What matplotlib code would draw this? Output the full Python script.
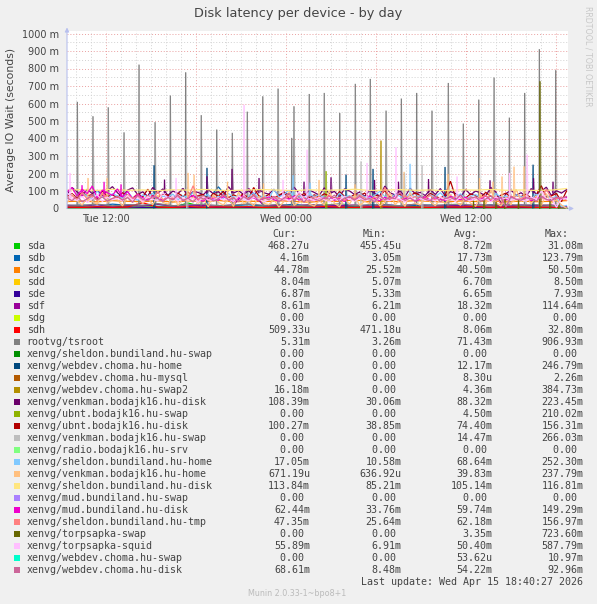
import numpy as np
import matplotlib
matplotlib.use("Agg")
import matplotlib.pyplot as plt
from matplotlib.patches import Rectangle

# ---------------- data (values in milliseconds, time in hours since Tue 00:00) -------------
T_START, T_END = 9.4, 42.7

names = ["sda", "sdb", "sdc", "sdd", "sde", "sdf", "sdg", "sdh", "rootvg/tsroot",
         "xenvg/sheldon.bundiland.hu-swap", "xenvg/webdev.choma.hu-home",
         "xenvg/webdev.choma.hu-mysql", "xenvg/webdev.choma.hu-swap2",
         "xenvg/venkman.bodajk16.hu-disk", "xenvg/ubnt.bodajk16.hu-swap",
         "xenvg/ubnt.bodajk16.hu-disk", "xenvg/venkman.bodajk16.hu-swap",
         "xenvg/radio.bodajk16.hu-srv", "xenvg/sheldon.bundiland.hu-home",
         "xenvg/venkman.bodajk16.hu-home", "xenvg/sheldon.bundiland.hu-disk",
         "xenvg/mud.bundiland.hu-swap", "xenvg/mud.bundiland.hu-disk",
         "xenvg/sheldon.bundiland.hu-tmp", "xenvg/torpsapka-swap",
         "xenvg/torpsapka-squid", "xenvg/webdev.choma.hu-swap",
         "xenvg/webdev.choma.hu-disk"]
colors = ["#00CC00", "#0066B3", "#FF8000", "#FFCC00", "#330099", "#990099", "#CCFF00",
          "#FF0000", "#808080", "#008F00", "#00487D", "#B35A00", "#B38F00", "#6B006B",
          "#8FB300", "#B30000", "#BEBEBE", "#80FF80", "#80C9FF", "#FFC080", "#FFE680",
          "#AA80FF", "#EE00CC", "#FF8080", "#666600", "#FFBFFF", "#00FFCC", "#CC6699"]
cur_vals = ["468.27u", "4.16m", "44.78m", "8.04m", "6.87m", "8.61m", "0.00 ", "509.33u",
            "5.31m", "0.00 ", "0.00 ", "0.00 ", "16.18m", "108.39m", "0.00 ", "100.27m",
            "0.00 ", "0.00 ", "17.05m", "671.19u", "113.84m", "0.00 ", "62.44m", "47.35m",
            "0.00 ", "55.89m", "0.00 ", "68.61m"]
min_vals = ["455.45u", "3.05m", "25.52m", "5.07m", "5.33m", "6.21m", "0.00 ", "471.18u",
            "3.26m", "0.00 ", "0.00 ", "0.00 ", "0.00 ", "30.06m", "0.00 ", "38.85m",
            "0.00 ", "0.00 ", "10.58m", "636.92u", "85.21m", "0.00 ", "33.76m", "25.64m",
            "0.00 ", "6.91m", "0.00 ", "8.48m"]
avg_vals = ["8.72m", "17.73m", "40.50m", "6.70m", "6.65m", "18.32m", "0.00 ", "8.06m",
            "71.43m", "0.00 ", "12.17m", "8.30u", "4.36m", "88.32m", "4.50m", "74.40m",
            "14.47m", "0.00 ", "68.64m", "39.83m", "105.14m", "0.00 ", "59.74m", "62.18m",
            "3.35m", "50.40m", "53.62u", "54.22m"]
max_vals = ["31.08m", "123.79m", "50.50m", "8.50m", "7.93m", "114.64m", "0.00 ", "32.80m",
            "906.93m", "0.00 ", "246.79m", "2.26m", "384.73m", "223.45m", "210.02m",
            "156.31m", "266.03m", "0.00 ", "252.30m", "237.79m", "116.81m", "0.00 ",
            "149.29m", "156.97m", "723.60m", "587.79m", "10.97m", "92.96m"]

zero_line = [0.0, 0.0]

sda_v = [8, 10, 6, 12, 9, 7, 11, 8, 31, 9, 6, 10, 8, 7, 12, 9, 8, 6, 10, 11, 7, 9, 8, 12,
         6, 9, 10, 8, 7, 11, 9, 8, 6, 0.5]
sdb_v = [15, 20, 12, 25, 18, 14, 22, 16, 19, 13, 124, 17, 21, 15, 18, 24, 14, 20, 16, 13,
         19, 22, 15, 17, 20, 14, 18, 16, 21, 13, 19, 15, 17, 4]
sdc_v = [40, 42, 38, 45, 41, 39, 44, 37, 43, 40, 46, 38, 42, 39, 44, 41, 36, 43, 40, 50,
         38, 42, 39, 45, 41, 37, 43, 40, 44, 38, 42, 39, 41, 45]
sdd_v = [6.7, 6.5, 7, 6.8, 6.4, 6.9, 7.2, 6.6, 6.3, 6.8, 7, 6.5, 6.7, 6.9, 6.4, 6.6, 7.1,
         6.8, 6.5, 6.7, 8.5, 6.6, 6.4, 6.9, 6.7, 6.5, 6.8, 7, 6.6, 6.4, 6.9, 6.7, 6.5, 8]
sde_v = [6.6, 6.8, 6.4, 6.7, 7.9, 6.5, 6.6, 6.9, 6.3, 6.7, 6.6, 6.8, 6.4, 6.5, 6.9, 6.7,
         6.6, 6.4, 6.8, 6.5, 6.7, 6.6, 6.9, 6.4, 6.8, 6.5, 6.6, 6.7, 6.4, 6.9, 6.6, 6.5, 6.8, 6.9]
sdf_v = [18, 15, 22, 12, 20, 16, 25, 14, 19, 17, 13, 21, 115, 16, 18, 14, 22, 17, 15, 20,
         13, 19, 16, 24, 15, 18, 14, 21, 17, 13, 19, 16, 20, 9]
sdh_v = [8, 6, 10, 7, 9, 33, 8, 6, 11, 7, 9, 8, 10, 6, 8, 9, 7, 11, 8, 6, 9, 10, 7, 8, 6,
         9, 8, 11, 7, 8, 9, 6, 8, 0.5]
tsroot_v = [20, 18, 25, 15, 22, 19, 28, 16, 21, 24, 17, 20, 26, 18, 23, 15, 21, 19, 27, 17,
            22, 20, 16, 24, 18, 21, 25, 17, 20, 23, 19, 22, 18, 5]
tsroot_spike_t = [10.09, 11.13, 12.15, 13.2, 14.2, 15.27, 16.29, 17.31, 18.35, 19.38, 20.42,
                  21.42, 22.45, 23.47, 24.38, 24.53, 25.55, 26.55, 27.58, 28.62, 29.62, 30.67,
                  31.69, 32.71, 33.73, 34.82, 35.82, 36.85, 37.87, 38.89, 39.91, 40.89, 41.98]
tsroot_spike_v = [606, 524, 575, 432, 819, 490, 642, 775, 530, 448, 429, 550, 638, 682, 400,
                  581, 651, 657, 543, 709, 737, 556, 625, 657, 556, 714, 482, 619, 745, 516,
                  657, 907, 787]
tsroot_base = 20

webdev_home_spike_t = [15.2, 18.73, 28.0, 29.8, 34.6, 40.47]
webdev_home_spike_v = [244, 229, 190, 223, 234, 247]
webdev_swap2_spike_t = [30.33]
webdev_swap2_spike_v = [385]
ubnt_swap_spike_t = [26.67]
ubnt_swap_spike_v = [210]
venkman_swap_spike_t = [17.4, 29.0, 33.07]
venkman_swap_spike_v = [120, 266, 244]
torp_swap_spike_t = [36.5, 37.2, 38.0, 38.6, 39.5, 40.93, 41.6, 42.2]
torp_swap_spike_v = [40, 55, 35, 60, 45, 724, 50, 30]

venkman_disk_v = [80, 120, 95, 70, 110, 85, 104, 75, 100, 125,
                  90, 65, 105, 118, 80, 95, 70, 120, 88, 112,
                  75, 100, 85, 115, 70, 96, 92, 78, 108, 84,
                  96, 70, 125, 88, 102, 80, 102, 74, 110, 90,
                  82, 110, 68, 95, 78, 122, 86, 72, 105, 92,
                  76, 118, 84, 98, 66, 112, 100, 80, 94, 70,
                  104, 86, 72, 128, 90, 78, 100, 68, 116, 84,
                  92, 74, 108, 80, 114, 70, 96, 86, 62, 110,
                  78, 100, 88, 72, 120, 94, 30, 84, 106, 76,
                  90, 68, 114, 82, 98, 122, 74, 102, 88, 108]
venkman_disk_spike_t = [15.9, 18.73, 20.4, 22.2, 25.2, 27.0, 29.9, 31.5, 33.5, 37.6, 40.5, 41.8]
venkman_disk_spike_v = [162, 181, 223, 171, 150, 175, 160, 150, 165, 158, 170, 150]
venkman_disk_base = 90

ubnt_disk_v = [70, 85, 60, 95, 72, 80, 55, 100, 68, 78,
               62, 90, 75, 58, 84, 66, 110, 70, 64, 82,
               76, 56, 88, 68, 94, 60, 74, 80, 52, 86,
               70, 98, 62, 78, 66, 84, 58, 120, 72, 64,
               80, 60, 76, 92, 56, 74, 68, 86, 62, 78,
               66, 84, 72, 58, 96, 70, 62, 80, 74, 88,
               60, 78, 68, 104, 64, 76, 82, 56, 72, 90,
               74, 62, 86, 70, 58, 80, 156, 66, 78, 60,
               84, 72, 64, 92, 70, 56, 76, 88, 62, 74,
               68, 82, 60, 78, 130, 66, 72, 86, 39, 100]

sheldon_home_v = [60, 80, 45, 90, 70, 55, 100, 65, 50, 85,
                  72, 58, 95, 62, 48, 78, 66, 88, 54, 70,
                  64, 82, 50, 74, 60, 92, 56, 68, 80, 46,
                  70, 58, 86, 62, 76, 52, 68, 90, 60, 74,
                  56, 110, 66, 80, 104, 62, 72, 54, 84, 68,
                  78, 60, 70, 50, 88, 64, 74, 58, 82, 66,
                  62, 76, 98, 68, 56, 80, 70, 60, 86, 64,
                  72, 54, 78, 66, 90, 58, 70, 62, 84, 56,
                  68, 80, 60, 74, 52, 86, 64, 72, 58, 78,
                  66, 70, 56, 82, 62, 74, 60, 68, 11, 17]
sheldon_home_spike_t = [24.47, 25.6, 31.9, 32.27]
sheldon_home_spike_v = [187, 144, 200, 252]
sheldon_home_base = 70

venkman_home_v = [30, 80, 45, 20, 60, 40, 25, 90, 35, 50,
                  50, 15, 70, 40, 85, 30, 60, 20, 75, 35,
                  25, 70, 18, 55, 40, 65, 30, 55, 10, 80,
                  35, 20, 60, 12, 95, 28, 45, 15, 70, 30,
                  22, 50, 8, 40, 95, 18, 35, 60, 25, 14,
                  45, 20, 100, 30, 10, 55, 25, 75, 18, 40,
                  28, 60, 15, 35, 90, 22, 48, 12, 90, 30,
                  20, 70, 38, 16, 55, 26, 80, 40, 18, 65,
                  30, 12, 80, 24, 105, 35, 14, 60, 20, 110,
                  40, 75, 25, 70, 15, 85, 30, 50, 20, 1]
venkman_home_spike_t = [10.8, 12.07, 17.47, 17.87, 20.1, 22.5, 26.2, 28.6, 31.87, 34.8,
                        36.9, 37.8, 38.4, 39.2, 39.87]
venkman_home_spike_v = [171, 171, 200, 190, 150, 140, 160, 135, 206, 194,
                        170, 150, 180, 236, 238]
venkman_home_base = 40

sheldon_disk_v = [105, 108, 103, 110, 104, 106, 102, 107, 105, 109, 104, 103, 106, 108, 105,
                  102, 107, 104, 106, 110, 103, 105, 108, 104, 106, 102, 107, 105, 109, 104,
                  106, 103, 105, 114]

mud_disk_v = [95, 120, 70, 110, 85, 128, 60, 105, 90, 75,
              112, 65, 98, 55, 80, 62, 50, 72, 58, 48,
              66, 52, 70, 45, 60, 75, 50, 42, 63, 55,
              47, 68, 52, 40, 58, 73, 49, 61, 44, 57,
              66, 50, 43, 62, 54, 70, 48, 59, 52, 45,
              63, 55, 71, 47, 58, 40, 66, 53, 60, 49,
              72, 56, 44, 64, 51, 68, 46, 58, 62, 42,
              55, 67, 48, 60, 53, 45, 70, 57, 50, 64,
              47, 59, 52, 73, 44, 56, 61, 48, 66, 55,
              50, 63, 45, 58, 70, 52, 47, 60, 54, 62]
mud_disk_spike_t = [10.4, 11.87, 13.0]
mud_disk_spike_v = [130, 149, 135]
mud_disk_base = 70

sheldon_tmp_v = [60, 75, 50, 90, 55, 70, 45, 85, 62, 52,
                 68, 48, 80, 58, 66, 40, 74, 56, 95, 50,
                 64, 54, 72, 46, 60, 130, 52, 70, 44, 66,
                 58, 76, 50, 62, 42, 70, 56, 80, 48, 64,
                 54, 68, 60, 45, 72, 52, 84, 58, 40, 66,
                 62, 50, 74, 56, 64, 46, 70, 54, 78, 60,
                 48, 66, 58, 120, 52, 62, 44, 72, 56, 68,
                 60, 54, 76, 48, 64, 58, 50, 70, 62, 46,
                 66, 56, 62, 74, 50, 68, 26, 60, 72, 54,
                 58, 70, 52, 64, 48, 110, 60, 56, 66, 47]

torp_squid_v = [90, 60, 45, 70, 35, 55, 80, 40, 65, 50,
                58, 42, 75, 48, 62, 38, 68, 52, 44, 90,
                55, 70, 40, 60, 48, 58, 36, 66, 50, 45,
                62, 48, 56, 40, 72, 52, 44, 64, 54, 38,
                50, 68, 46, 58, 42, 60, 95, 48, 56, 44,
                64, 50, 38, 58, 46, 70, 52, 42, 60, 48,
                56, 40, 66, 50, 44, 62, 54, 36, 68, 48,
                60, 46, 55, 42, 64, 50, 58, 40, 70, 52,
                44, 62, 48, 56, 38, 66, 52, 60, 46, 58,
                50, 42, 64, 54, 100, 48, 60, 7, 56, 56]
torp_squid_spike_t = [9.6, 16.67, 21.2, 23.8, 25.4, 29.4, 31.33, 35.4, 38.9, 40.07]
torp_squid_spike_v = [200, 171, 589, 160, 333, 257, 347, 180, 200, 305]
torp_squid_base = 50

webdev_disk_v = [60, 45, 72, 38, 55, 80, 50, 66, 42, 58,
                 70, 48, 62, 35, 75, 52, 44, 68, 57, 40,
                 63, 50, 78, 46, 59, 37, 71, 54, 65, 43,
                 56, 82, 48, 61, 39, 67, 52, 74, 45, 60,
                 50, 69, 41, 58, 86, 47, 63, 36, 72, 55,
                 44, 62, 53, 77, 40, 59, 66, 48, 70, 51,
                 57, 38, 74, 49, 64, 55, 93, 46, 60, 42,
                 68, 52, 45, 71, 39, 58, 63, 50, 76, 44,
                 59, 66, 41, 54, 73, 47, 62, 9, 69, 53,
                 48, 61, 57, 42, 70, 52, 45, 65, 58, 69]

# series in drawing order: (values, spike times, spike values, spike base)
series = [
    (sda_v, [], [], 0), (sdb_v, [], [], 0), (sdc_v, [], [], 0), (sdd_v, [], [], 0),
    (sde_v, [], [], 0), (sdf_v, [], [], 0), (zero_line, [], [], 0), (sdh_v, [], [], 0),
    (tsroot_v, tsroot_spike_t, tsroot_spike_v, tsroot_base),
    (zero_line, [], [], 0),
    (zero_line, webdev_home_spike_t, webdev_home_spike_v, 0),
    (zero_line, [], [], 0),
    (zero_line, webdev_swap2_spike_t, webdev_swap2_spike_v, 0),
    (venkman_disk_v, venkman_disk_spike_t, venkman_disk_spike_v, venkman_disk_base),
    (zero_line, ubnt_swap_spike_t, ubnt_swap_spike_v, 0),
    (ubnt_disk_v, [], [], 0),
    (zero_line, venkman_swap_spike_t, venkman_swap_spike_v, 0),
    (zero_line, [], [], 0),
    (sheldon_home_v, sheldon_home_spike_t, sheldon_home_spike_v, sheldon_home_base),
    (venkman_home_v, venkman_home_spike_t, venkman_home_spike_v, venkman_home_base),
    (sheldon_disk_v, [], [], 0),
    (zero_line, [], [], 0),
    (mud_disk_v, mud_disk_spike_t, mud_disk_spike_v, mud_disk_base),
    (sheldon_tmp_v, [], [], 0),
    (zero_line, torp_swap_spike_t, torp_swap_spike_v, 0),
    (torp_squid_v, torp_squid_spike_t, torp_squid_spike_v, torp_squid_base),
    (zero_line, [], [], 0),
    (webdev_disk_v, [], [], 0),
]

y_ticks = [0, 100, 200, 300, 400, 500, 600, 700, 800, 900, 1000]
x_ticks = [12, 24, 36]
x_ticklabels = ["Tue 12:00", "Wed 00:00", "Wed 12:00"]

# ---------------- figure ----------------
W, H = 597, 604
fig = plt.figure(figsize=(W / 100, H / 100), dpi=100, facecolor="#F0F0F0")

def px(x, y):
    return x / W, 1 - y / H

L, R, B, T = 67, 568, 208.5, 31
ax = fig.add_axes([L / W, 1 - B / H, (R - L) / W, (B - T) / H])
ax.set_facecolor("white")
ax.set_xlim(9.4, 42.8)
ax.set_ylim(0, 1000 * (B - T) / 175.0)
for s in ax.spines.values():
    s.set_visible(False)

# grid
minor_c, major_c = "#D2D2D2", "#EAA0A0"
dot = (0, (1, 2))
for h in range(10, 43):
    if h % 6 == 0:
        continue
    ax.axvline(h, color=minor_c, lw=0.7, ls=dot, zorder=1)
for h in range(12, 43, 6):
    ax.axvline(h, color=major_c, lw=0.7, ls=dot, zorder=1)
for v in range(50, 1000, 100):
    ax.axhline(v, color=minor_c, lw=0.7, ls=dot, zorder=1)
for v in range(100, 1001, 100):
    ax.axhline(v, color=major_c, lw=0.7, ls=dot, zorder=1)

LW = 0.9
STEP = 0.0833  # one 5-minute sample, in hours
for (vals, st, sv, base), c in zip(series, colors):
    tt = np.linspace(T_START, T_END, len(vals))
    ax.plot(tt, vals, color=c, lw=LW, zorder=3, solid_joinstyle="miter")
    for t, v in zip(st, sv):
        xs = [t - 0.015, t, t + 0.5 * STEP, t + 1.6 * STEP]
        ys = [base, v, v, base]
        ax.fill(xs, ys, color=c, alpha=0.4, lw=0, zorder=3)
        ax.plot(xs[:2], ys[:2], color=c, lw=LW, zorder=3)

# axes arrows
axis_c = "#B8C0EE"
ax.annotate("", xy=(0, 1.02), xytext=(0, 0), xycoords="axes fraction",
            arrowprops=dict(arrowstyle="-|>", color=axis_c, lw=0.8, mutation_scale=6,
                            shrinkA=0, shrinkB=0), annotation_clip=False, zorder=5)
ax.annotate("", xy=(1.012, 0), xytext=(0, 0), xycoords="axes fraction",
            arrowprops=dict(arrowstyle="-|>", color=axis_c, lw=0.8, mutation_scale=6,
                            shrinkA=0, shrinkB=0), annotation_clip=False, zorder=2)

txt_c = "#444444"
ax.set_yticks(y_ticks)
ax.set_yticklabels(["0" if v == 0 else f"{v} m" for v in y_ticks])
ax.set_xticks(x_ticks)
ax.set_xticklabels(x_ticklabels)
ax.tick_params(axis="both", length=0, labelsize=7, labelcolor=txt_c)
ax.tick_params(axis="y", pad=6)
ax.tick_params(axis="x", pad=4)

fig.text(*px(298, 13), "Disk latency per device - by day", ha="center", va="center",
         fontsize=9.3, color=txt_c)
fig.text(*px(11, 120), "Average IO Wait (seconds)", ha="center", va="center",
         rotation=90, fontsize=7.8, color=txt_c)
fig.text(*px(588, 56), "RRDTOOL / TOBI OETIKER", ha="center", va="center",
         rotation=270, fontsize=5.7, color="#C8C8C8")

# legend
mono = "DejaVu Sans Mono"
fs = 7.2
y0, dy = 245.7, 12.0
hy = 233.7
for label, xr in zip(["Cur:", "Min:", "Avg:", "Max:"], [296, 387, 478, 569]):
    fig.text(*px(xr, hy), label, ha="right", va="center", family=mono, fontsize=fs, color=txt_c)
for i, nm in enumerate(names):
    y = y0 + i * dy
    fig.add_artist(Rectangle(px(14, y + 3), 6 / W, 6 / H, transform=fig.transFigure,
                             facecolor=colors[i], edgecolor="none"))
    fig.text(*px(26.7, y), nm, ha="left", va="center", family=mono, fontsize=fs, color=txt_c)
    for col, xr in zip([cur_vals, min_vals, avg_vals, max_vals], [310, 401.7, 492.7, 583.3]):
        fig.text(*px(xr, y), col[i], ha="right", va="center", family=mono, fontsize=fs,
                 color=txt_c)
fig.text(*px(583.3, y0 + 28 * dy), "Last update: Wed Apr 15 18:40:27 2026", ha="right",
         va="center", family=mono, fontsize=fs, color=txt_c)
fig.text(*px(297, 593.3), "Munin 2.0.33-1~bpo8+1", ha="center", va="center",
         fontsize=5.8, color="#BBBBBB")

fig.savefig("out.png", dpi=100, facecolor=fig.get_facecolor())
